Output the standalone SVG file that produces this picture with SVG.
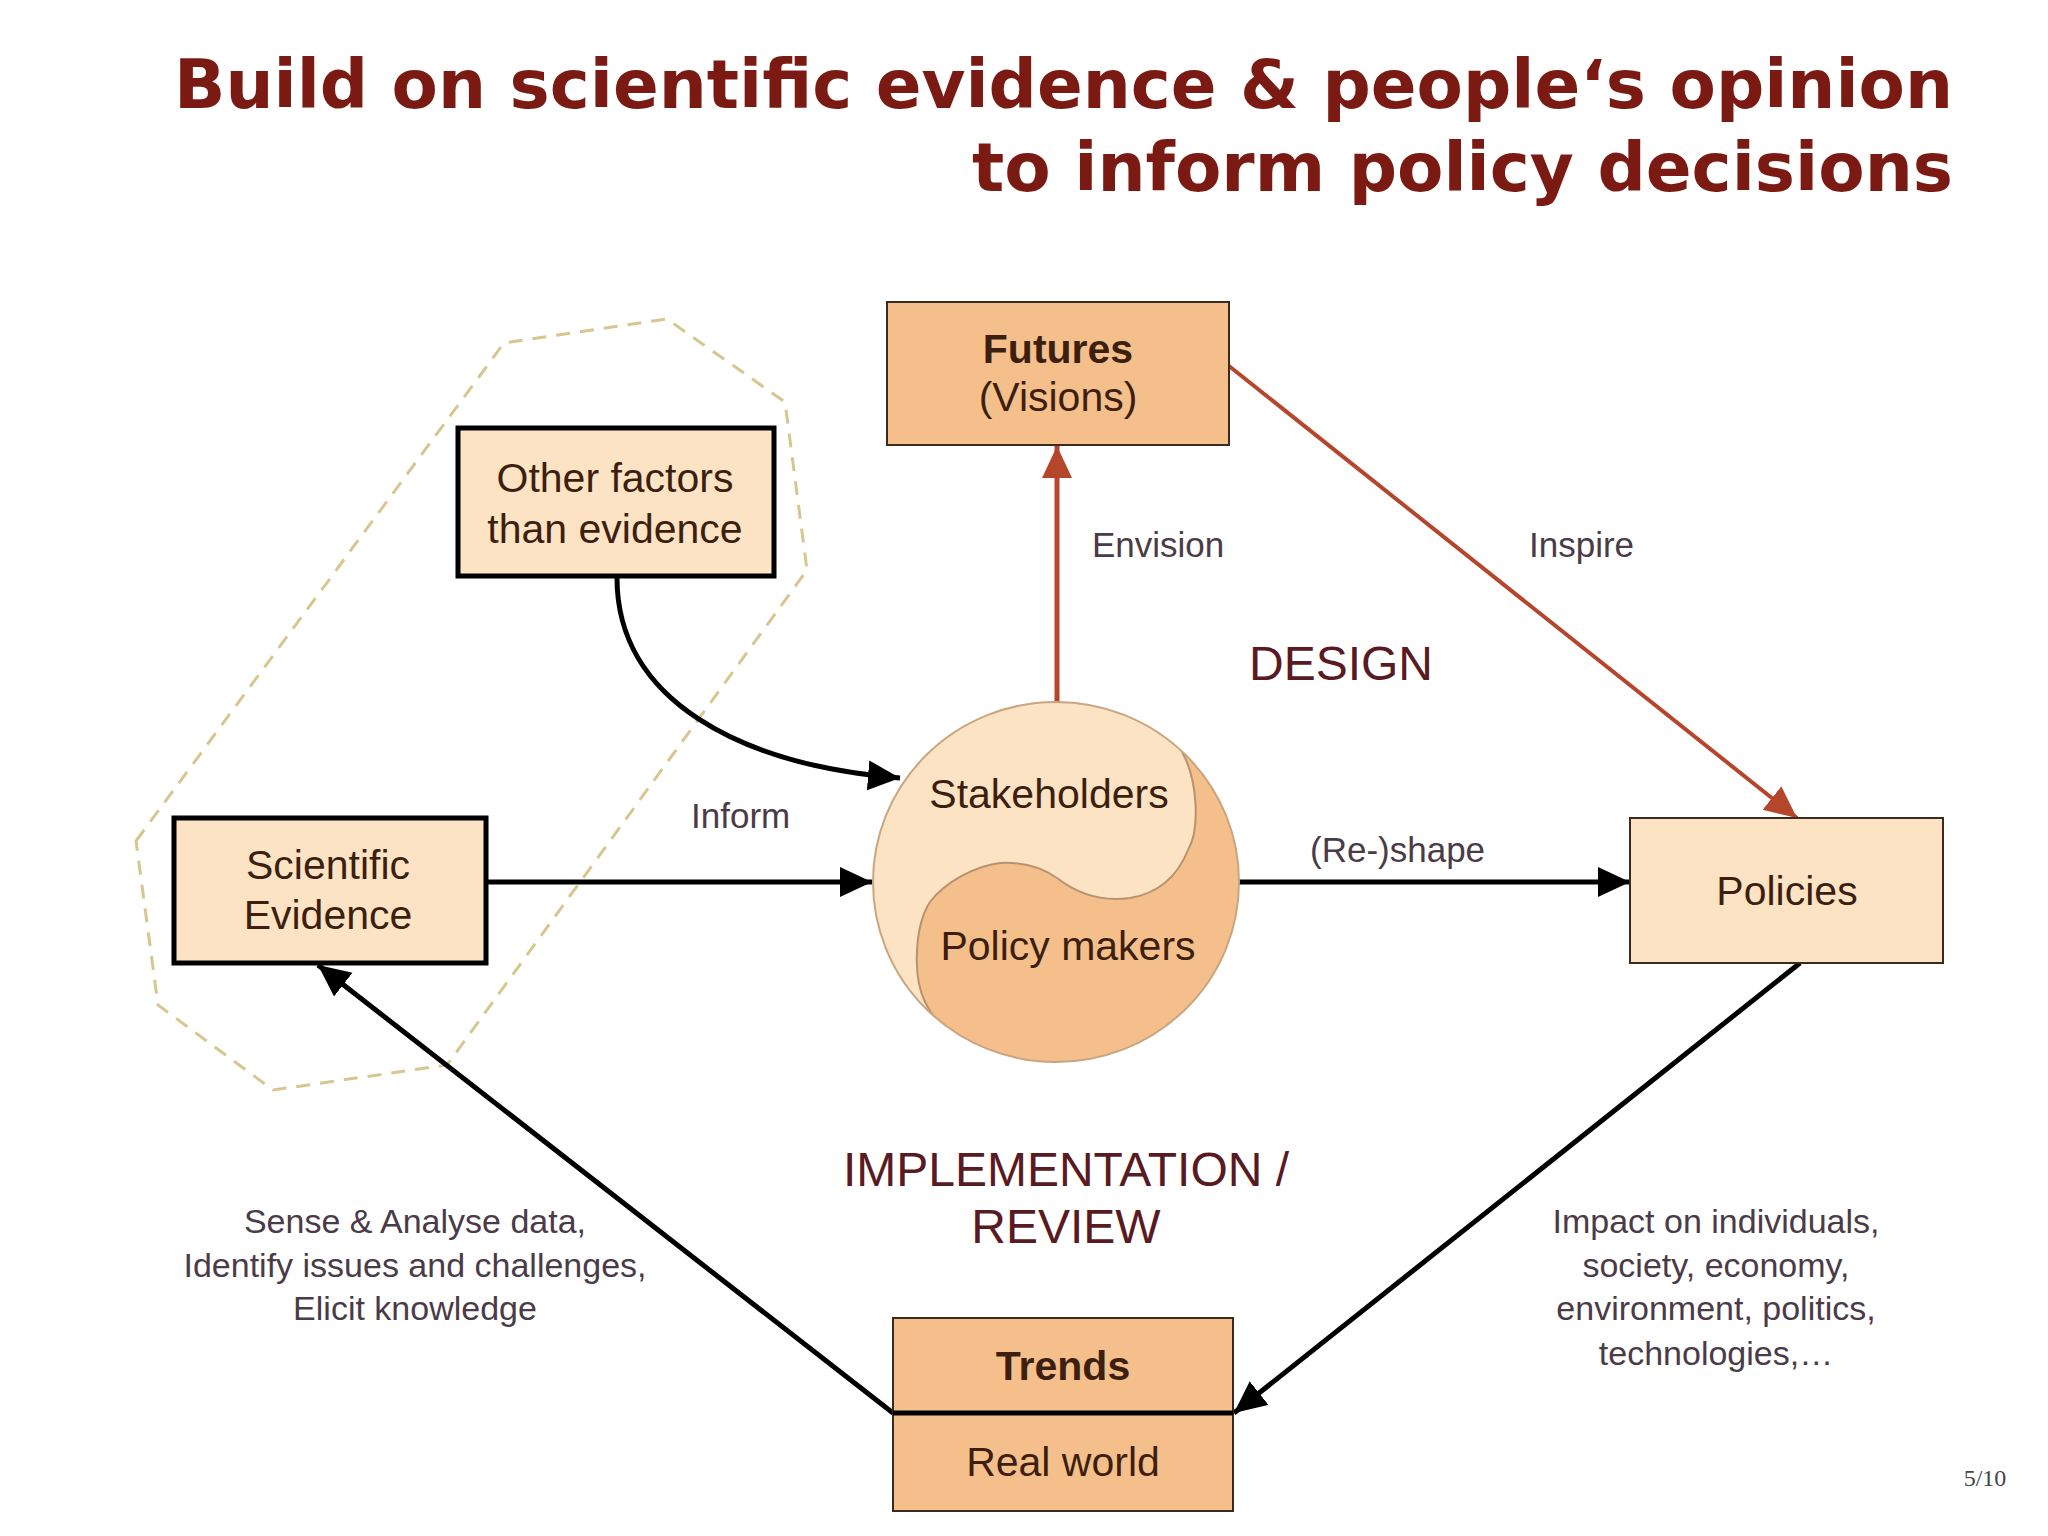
<svg xmlns="http://www.w3.org/2000/svg" width="2048" height="1536" viewBox="0 0 2048 1536">
<style>
.title{font-family:"DejaVu Sans",Verdana,sans-serif;font-weight:bold;font-size:67px;fill:#7B1A12}
.bx{font-family:"Liberation Sans",Arial,sans-serif;font-size:41px;fill:#3D1F10;text-anchor:middle}
.b{font-weight:bold}
.lbl{font-family:"Liberation Sans",Arial,sans-serif;font-size:35px;fill:#4B3B48}
.phase{font-family:"Liberation Sans",Arial,sans-serif;font-size:48px;fill:#5A1A22;text-anchor:middle}
.note{font-family:"Liberation Sans",Arial,sans-serif;font-size:34px;fill:#4B3B48;text-anchor:middle}
.light{fill:#FCE3C4}
.dark{fill:#F5BF8C}
.thin{stroke:#3A2A20;stroke-width:2}
.thick{stroke:#000;stroke-width:5}
.blk{fill:none;stroke:#000;stroke-width:5}
.red{fill:none;stroke:#B5462B;stroke-width:5}
</style>
<defs>
<marker id="ab" markerUnits="userSpaceOnUse" markerWidth="34" markerHeight="32" refX="32" refY="15" orient="auto">
<path d="M0,0 L32,15 L0,30 z" fill="#000"/>
</marker>
<marker id="ar" markerUnits="userSpaceOnUse" markerWidth="34" markerHeight="32" refX="32" refY="15" orient="auto">
<path d="M0,0 L32,15 L0,30 z" fill="#B5462B"/>
</marker>
<clipPath id="circ">
<ellipse cx="1056" cy="882" rx="183" ry="180"/>
</clipPath>
</defs>
<rect width="2048" height="1536" fill="#FFFFFF"/>

<g id="title">
<text class="title" x="1953" y="108" text-anchor="end" textLength="1779" lengthAdjust="spacingAndGlyphs">Build on scientific evidence &amp; people‘s opinion</text>
<text class="title" x="1953" y="191" text-anchor="end" textLength="981" lengthAdjust="spacingAndGlyphs">to inform policy decisions</text>
</g>

<g id="evidence-group">
<polygon points="136,841 504,343 667,319 785,402 807,570 447,1065 273,1090 158,1005" fill="none" stroke="#D8C690" stroke-width="3" stroke-dasharray="14,10"/>
</g>

<g id="connectors">
<path class="blk" d="M617,578 C617,700 740,765 900,778" marker-end="url(#ab)"/>
<line class="blk" x1="486" y1="882" x2="872" y2="882" marker-end="url(#ab)"/>
<line class="blk" x1="1238" y1="882" x2="1630" y2="882" marker-end="url(#ab)"/>
<line class="red" x1="1057" y1="703" x2="1057" y2="446" marker-end="url(#ar)"/>
<line class="red" style="stroke-width:4" x1="1229" y1="366" x2="1797" y2="818" marker-end="url(#ar)"/>
<line class="blk" x1="1800" y1="963" x2="1234" y2="1413" marker-end="url(#ab)"/>
<line class="blk" x1="893" y1="1413" x2="318" y2="965" marker-end="url(#ab)"/>
<text class="lbl" x="691" y="828">Inform</text>
<text class="lbl" x="1310" y="862">(Re-)shape</text>
<text class="lbl" x="1092" y="557">Envision</text>
<text class="lbl" x="1529" y="557">Inspire</text>
</g>

<g id="futures">
<rect class="dark thin" x="887" y="302" width="342" height="143"/>
<text class="bx b" x="1058" y="363">Futures</text>
<text class="bx" x="1058" y="411">(Visions)</text>
</g>

<g id="other-factors">
<rect class="light thick" x="458" y="428" width="316" height="148"/>
<text class="bx" x="615" y="492">Other factors</text>
<text class="bx" x="615" y="543">than evidence</text>
</g>

<g id="scientific-evidence">
<rect class="light thick" x="174" y="818" width="312" height="145"/>
<text class="bx" x="328" y="879">Scientific</text>
<text class="bx" x="328" y="929">Evidence</text>
</g>

<g id="policies">
<rect class="light thin" x="1630" y="818" width="313" height="145"/>
<text class="bx" x="1787" y="905">Policies</text>
</g>

<g id="trends">
<rect class="dark thin" x="893" y="1318" width="340" height="193"/>
<line x1="893" y1="1413" x2="1233" y2="1413" stroke="#000" stroke-width="5"/>
<text class="bx b" x="1063" y="1380">Trends</text>
<text class="bx" x="1063" y="1476">Real world</text>
</g>

<g id="stakeholders-policymakers">
<ellipse cx="1056" cy="882" rx="183" ry="180" fill="#FCE3C4"/>
<path clip-path="url(#circ)" d="M1182,752 C1198,780 1200,830 1188,850 C1178,875 1160,893 1130,898 C1100,902 1075,892 1057,878 C1040,866 1020,862 1000,863 C975,866 945,882 930,902 C915,925 912,975 925,1002 C935,1022 950,1036 970,1050 L960,1120 L1300,1120 L1300,700 L1170,700 z" fill="#F5BF8C"/>
<path clip-path="url(#circ)" d="M1182,752 C1198,780 1200,830 1188,850 C1178,875 1160,893 1130,898 C1100,902 1075,892 1057,878 C1040,866 1020,862 1000,863 C975,866 945,882 930,902 C915,925 912,975 925,1002 C935,1022 950,1036 970,1050" fill="none" stroke="#B89270" stroke-width="2"/>
<ellipse cx="1056" cy="882" rx="183" ry="180" fill="none" stroke="#C9A582" stroke-width="2"/>
<text class="bx" x="1049" y="808">Stakeholders</text>
<text class="bx" x="1068" y="960">Policy makers</text>
</g>

<g id="phases">
<text class="phase" x="1341" y="680">DESIGN</text>
<text class="phase" x="1066" y="1186">IMPLEMENTATION /</text>
<text class="phase" x="1066" y="1243">REVIEW</text>
</g>

<g id="notes">
<text class="note" x="415" y="1233">Sense &amp; Analyse data,</text>
<text class="note" x="415" y="1277">Identify issues and challenges,</text>
<text class="note" x="415" y="1320">Elicit knowledge</text>
<text class="note" x="1716" y="1233">Impact on individuals,</text>
<text class="note" x="1716" y="1277">society, economy,</text>
<text class="note" x="1716" y="1320">environment, politics,</text>
<text class="note" x="1716" y="1365">technologies,…</text>
</g>

<text x="1985" y="1486" font-family="Liberation Serif,serif" font-size="24" fill="#444" text-anchor="middle">5/10</text>
</svg>
